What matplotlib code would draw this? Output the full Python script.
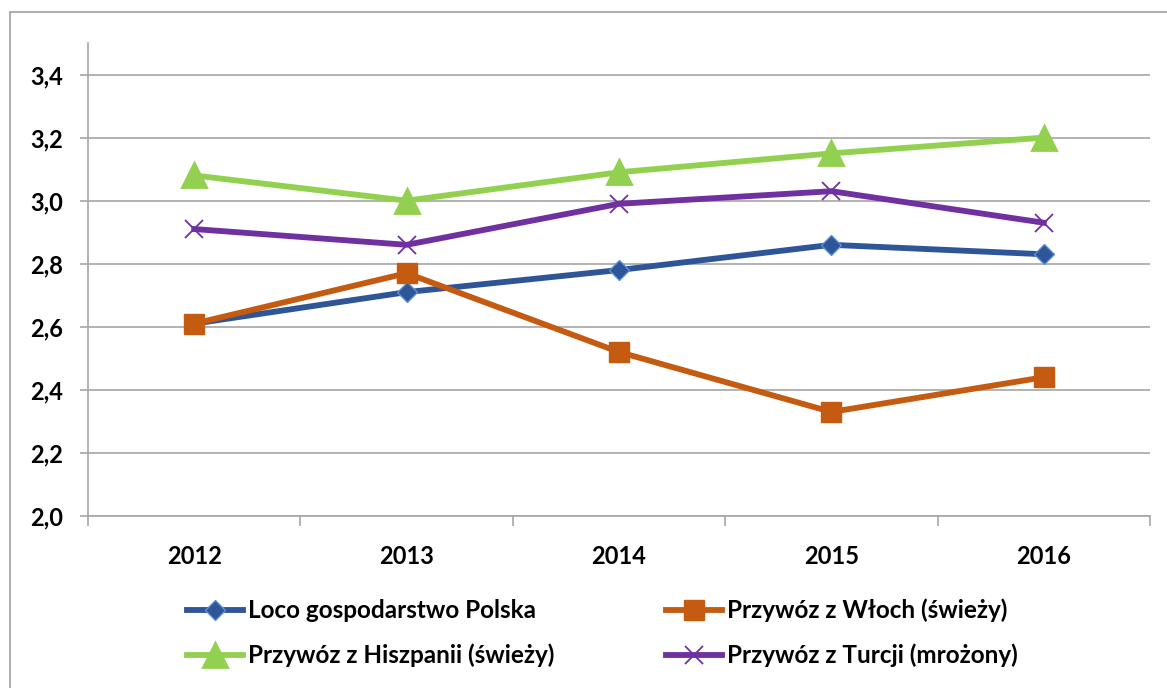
import matplotlib
matplotlib.use("Agg")
import matplotlib.pyplot as plt
from matplotlib.patches import Rectangle
from matplotlib.ticker import FixedLocator, FuncFormatter

plt.rcParams["font.family"] = ["Lato", "DejaVu Sans"]
plt.rcParams["font.weight"] = "bold"

YEARS = ["2012", "2013", "2014", "2015", "2016"]
LOCO = [2.61, 2.71, 2.78, 2.86, 2.83]
WLOCHY = [2.61, 2.77, 2.52, 2.33, 2.44]
HISZPANIA = [3.08, 3.00, 3.09, 3.15, 3.20]
TURCJA = [2.91, 2.86, 2.99, 3.03, 2.93]
LABELS = ["Loco gospodarstwo Polska", "Przywóz z Włoch (świeży)",
          "Przywóz z Hiszpanii (świeży)", "Przywóz z Turcji (mrożony)"]

GRID = "#A6A6A6"

fig = plt.figure(figsize=(11.67, 6.88), dpi=100)
fig.patches.append(Rectangle((10 / 1167, -0.05), 1.1, 1 - 12 / 688 + 0.05,
                             transform=fig.transFigure, fill=False,
                             edgecolor="#A0A0A0", lw=1.2))
ax = fig.add_axes([88 / 1167, 172 / 688, 1062 / 1167, 473 / 688])

x = list(range(len(YEARS)))
h1, = ax.plot(x, LOCO, color="#2E5597", lw=4.2, marker="D", markersize=10,
              markerfacecolor="#2E5597", markeredgecolor="#5B8FD6", markeredgewidth=1)
h2, = ax.plot(x, WLOCHY, color="#C55A11", lw=4.2, marker="s", markersize=14,
              markerfacecolor="#C55A11", markeredgecolor="#C55A11")
h3, = ax.plot(x, HISZPANIA, color="#92D050", lw=4.2, marker="^", markersize=17,
              markerfacecolor="#92D050", markeredgecolor="#92D050", markeredgewidth=2)
h4, = ax.plot(x, TURCJA, color="#7030A0", lw=4.2, marker="x", markersize=13,
              markeredgewidth=1.3, markeredgecolor="#7030A0")

ax.set_xlim(-0.5, len(YEARS) - 0.5)
ax.set_ylim(2.0, 3.5)
ax.yaxis.set_major_locator(FixedLocator([2.0, 2.2, 2.4, 2.6, 2.8, 3.0, 3.2, 3.4]))
ax.yaxis.set_major_formatter(FuncFormatter(lambda v, p: f"{v:.1f}".replace(".", ",")))
ax.set_xticks(x)
ax.set_xticklabels(YEARS)
ax.set_xticks([i - 0.5 for i in range(len(YEARS) + 1)], minor=True)
ax.tick_params(axis="x", which="major", length=0, pad=21, labelsize=17)
ax.tick_params(axis="x", which="minor", length=7, color=GRID, width=1.2)
ax.tick_params(axis="y", length=6, color=GRID, width=1.2, pad=12, labelsize=17)
ax.grid(axis="y", color=GRID, lw=1.2)
ax.set_axisbelow(True)
for s in ["top", "right"]:
    ax.spines[s].set_visible(False)
for s in ["left", "bottom"]:
    ax.spines[s].set_color(GRID)
    ax.spines[s].set_linewidth(1.2)

# legend filled row by row, as in the original
fig.legend([h1, h3, h2, h4], [LABELS[0], LABELS[2], LABELS[1], LABELS[3]],
           ncol=2, loc="center", bbox_to_anchor=(0.516, 0.080), frameon=False,
           fontsize=17.5, handlelength=2.3, handletextpad=0.2, columnspacing=4.6,
           labelspacing=0.9, borderaxespad=0)

fig.savefig("out.png", dpi=100)
